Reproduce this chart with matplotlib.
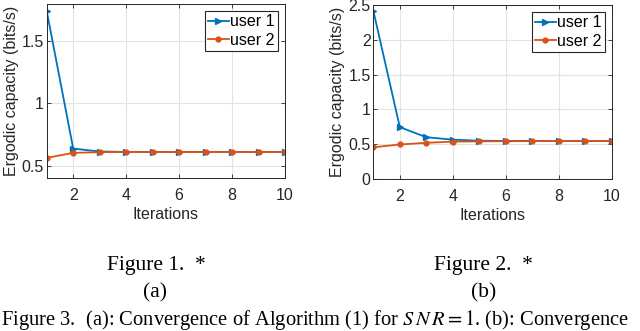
import matplotlib
matplotlib.use('Agg')
import matplotlib.pyplot as plt

# Convergence of the ergodic capacity per iteration
iterations = [1, 2, 3, 4, 5, 6, 7, 8, 9, 10]
user1_a = [1.745, 0.637, 0.613, 0.61, 0.61, 0.61, 0.61, 0.61, 0.61, 0.61]
user2_a = [0.562, 0.602, 0.608, 0.61, 0.61, 0.61, 0.61, 0.61, 0.61, 0.61]
user1_b = [2.42, 0.745, 0.60, 0.565, 0.55, 0.547, 0.546, 0.545, 0.545, 0.545]
user2_b = [0.455, 0.496, 0.52, 0.537, 0.541, 0.543, 0.544, 0.545, 0.545, 0.545]

W, H = 640, 331
blue = '#0072BD'
orange = '#D95319'
dark = '#262626'
sans = ['Liberation Sans', 'DejaVu Sans']
serif = ['Liberation Serif', 'DejaVu Serif']
plt.rcParams['mathtext.fontset'] = 'stix'

fig = plt.figure(figsize=(6.4, 3.31), dpi=100)


def make_axes(x0, x1, y0, y1, u1, u2, ylim, yticks, yticklabels):
    ax = fig.add_axes([x0 / W, 1 - y1 / H, (x1 - x0) / W, (y1 - y0) / H])
    ax.plot(iterations, u1, color=blue, marker='>', markersize=5, linewidth=1.3, label='user 1')
    ax.plot(iterations, u2, color=orange, marker='.', markersize=7, linewidth=1.3, label='user 2')
    ax.set_xlim(1, 10)
    ax.set_ylim(*ylim)
    ax.set_xticks([2, 4, 6, 8, 10])
    ax.set_yticks(yticks)
    ax.set_yticklabels(yticklabels)
    ax.grid(True, color='#e3e3e3', linewidth=0.8)
    ax.set_axisbelow(True)
    ax.tick_params(direction='in', top=True, right=True, length=3, labelsize=11.5,
                   colors=dark, width=0.6)
    ax.tick_params(axis='y', pad=2)
    ax.tick_params(axis='x', pad=7)
    for lab in ax.get_xticklabels() + ax.get_yticklabels():
        lab.set_family(sans)
    for s in ax.spines.values():
        s.set_color(dark)
        s.set_linewidth(0.7)
    ax.set_xlabel('Iterations', fontsize=11.5, family=sans, color=dark, labelpad=3)
    ax.set_ylabel('Ergodic capacity (bits/s)', fontsize=11.5, family=sans, color=dark, labelpad=2)
    leg = ax.legend(loc='upper right', prop={'family': sans, 'size': 11.5},
                    fancybox=False, edgecolor=dark, framealpha=1,
                    handlelength=1.3, handletextpad=0.1, borderpad=0.2,
                    labelspacing=0.2, borderaxespad=0.45)
    leg.get_frame().set_linewidth(0.8)
    return ax


make_axes(46.7, 285, 4, 178, user1_a, user2_a, (0.4, 1.8),
          [0.5, 1, 1.5], ['0.5', '1', '1.5'])
make_axes(373.3, 612, 5, 179, user1_b, user2_b, (0, 2.5),
          [0, 0.5, 1, 1.5, 2, 2.5], ['0', '0.5', '1', '1.5', '2', '2.5'])

# captions below the plots
cap = dict(ha='center', va='baseline', fontsize=15.5, family=serif)
fig.text(156 / W, 1 - 270 / H, 'Figure 1.  *', **cap)
fig.text(155 / W, 1 - 297 / H, '(a)', **cap)
fig.text(483 / W, 1 - 270 / H, 'Figure 2.  *', **cap)
fig.text(484 / W, 1 - 297 / H, '(b)', **cap)
fig.text(1 / W, 1 - 325 / H,
         r'Figure 3.  (a): Convergence of Algorithm (1) for $S\,N\,R = 1$. (b): Convergence',
         ha='left', va='baseline', fontsize=14.8, family=serif)

fig.savefig('out.png', dpi=100)
